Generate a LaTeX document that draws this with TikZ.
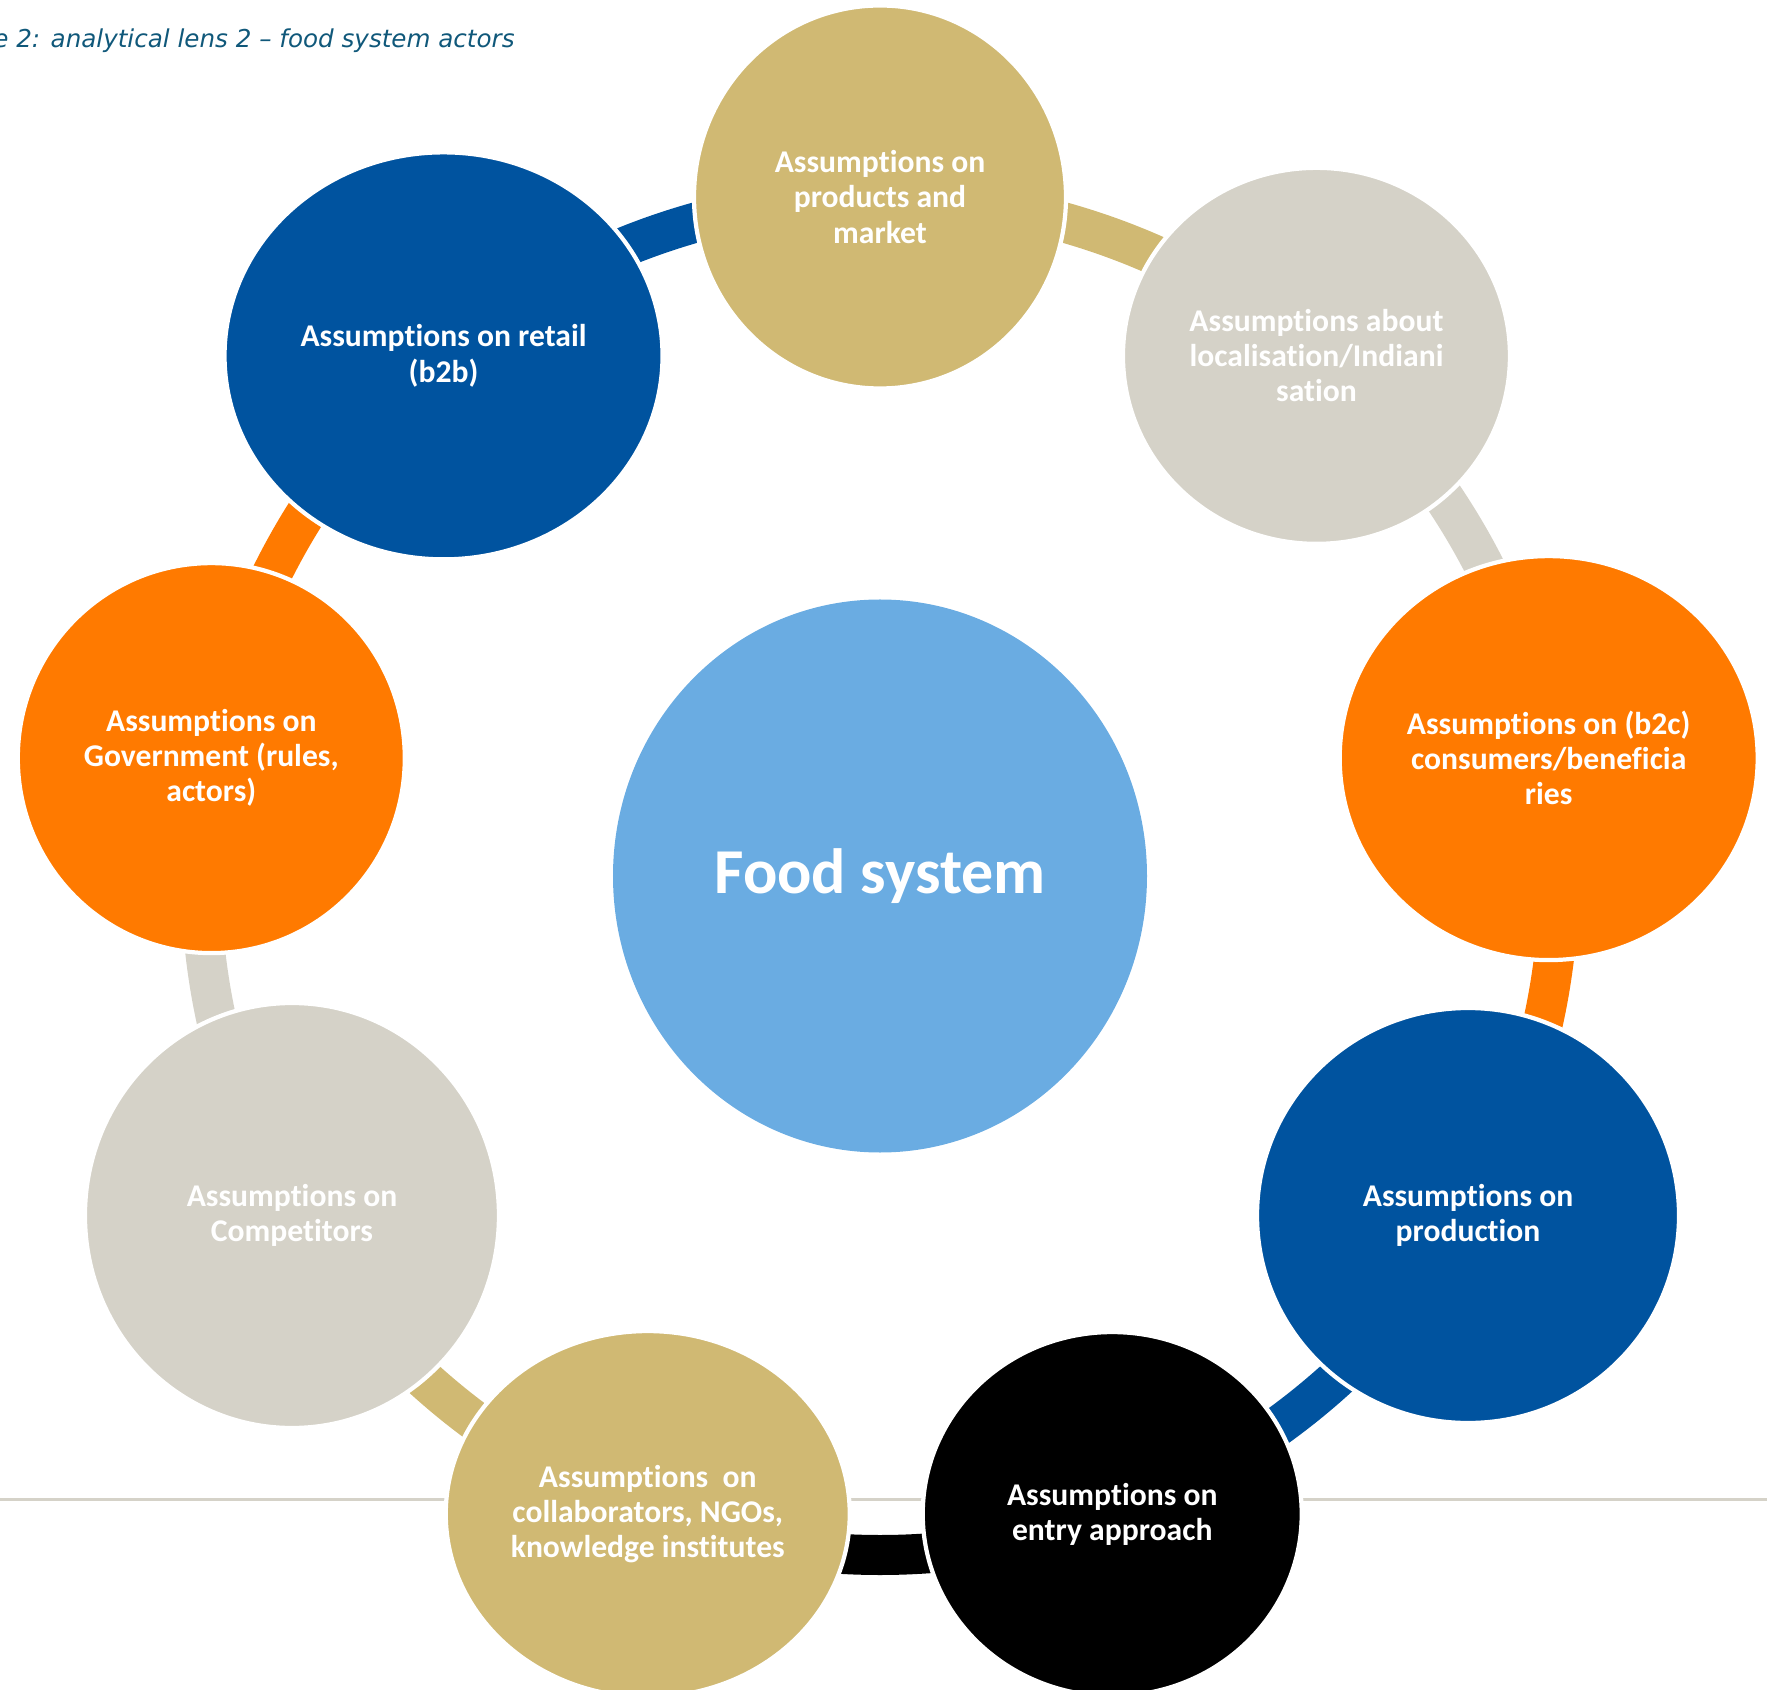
\documentclass[tikz,border=0pt]{standalone}
\usepackage{fontspec}
\setmainfont{Carlito}[Ligatures=NoCommon]
\newfontfamily\capfont{DejaVu Sans}[ItalicFont={DejaVu Sans Oblique}]
\usetikzlibrary{shapes.geometric}
\definecolor{gold}{RGB}{208,185,115}
\definecolor{navy}{RGB}{0,83,159}
\definecolor{stone}{RGB}{213,210,200}
\definecolor{amber}{RGB}{255,122,0}
\definecolor{sky}{RGB}{106,172,226}
\definecolor{capblue}{RGB}{16,88,122}

\begin{document}
\begin{tikzpicture}[
  actor/.style={ellipse, draw=white, line width=1.2pt, inner sep=0pt, text=white,
    align=center, font=\bfseries\fontsize{9}{10}\selectfont},
  link/.style={line width=4mm, draw=#1}]
\useasboundingbox (-8.80,-8.13) rectangle (8.87,8.76);
\clip (-8.80,-8.13) rectangle (8.87,8.76);

\node[anchor=base east, text=capblue, font=\capfont\itshape\fontsize{7}{8}\selectfont] (cap) at (-3.53,8.28)
  {Figure 2: analytical lens 2 – food system actors};

\coordinate (ruleL) at (-8.80,-6.23);
\coordinate (ruleR) at (8.87,-6.23);
\draw[stone, line width=0.85pt] (ruleL) -- (ruleR);

\foreach \n/\a in {top/90, loc/50, b2c/10, prod/-30, entry/-70, collab/-110, comp/-150, gov/170, retail/130}
  \coordinate (\n) at (\a:6.79);

\foreach \s/\a/\c in {top/90/gold, loc/50/stone, b2c/10/amber, prod/-30/navy, entry/-70/black,
    collab/-110/gold, comp/-150/stone, gov/170/amber, retail/130/navy}
  \draw[link=\c] (\s) arc[start angle=\a, end angle=\a-40, radius=6.79];

\node[actor, fill=gold, minimum width=3.72cm, minimum height=3.83cm] (products) at (top)
  {Assumptions on\\products and\\market};
\node[actor, fill=stone, minimum width=3.87cm, minimum height=3.76cm] (local) at (loc)
  {Assumptions about\\localisation/Indiani\\sation};
\node[actor, fill=amber, minimum width=4.18cm, minimum height=4.04cm] (consumers) at (b2c)
  {Assumptions on (b2c)\\consumers/beneficia\\ries};
\node[actor, fill=navy, minimum width=4.22cm, minimum height=4.15cm] (production) at (prod)
  {Assumptions on\\production};
\node[actor, fill=black, minimum width=3.79cm, minimum height=3.64cm] (approach) at (entry)
  {Assumptions on\\entry approach};
\node[actor, fill=gold, minimum width=4.04cm, minimum height=3.66cm] (collaborators) at (collab)
  {Assumptions\ \ on\\collaborators, NGOs,\\knowledge institutes};
\node[actor, fill=stone, minimum width=4.14cm, minimum height=4.25cm] (competitors) at (comp)
  {Assumptions on\\Competitors};
\node[actor, fill=amber, minimum width=3.87cm, minimum height=3.90cm] (government) at (gov)
  {Assumptions on\\Government (rules,\\actors)};
\node[actor, fill=navy, minimum width=4.38cm, minimum height=4.07cm] (retailers) at (retail)
  {Assumptions on retail\\(b2b)};

\node[ellipse, fill=sky, inner sep=0pt, minimum width=5.34cm, minimum height=5.53cm, text=white,
  font=\bfseries\fontsize{18.2}{20}\selectfont] (food) at (0,0) {Food system};
\end{tikzpicture}
\end{document}
